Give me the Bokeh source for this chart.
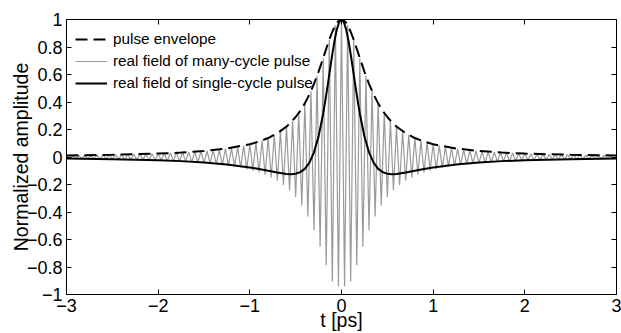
import numpy as np
from bokeh.plotting import figure
from bokeh.models import Range1d, FixedTicker, LinearAxis, Legend, LegendItem
from bokeh.embed import file_html
from bokeh.resources import INLINE

# ---- data (curves are symmetric about t = 0; values for t >= 0) ----
half_t = [0, 0.025, 0.05, 0.075, 0.1, 0.125, 0.15, 0.175, 0.2, 0.25, 0.3, 0.35, 0.4,
          0.45, 0.5, 0.55, 0.6, 0.7, 0.8, 0.9, 1.0, 1.25, 1.5, 1.75, 2.0, 2.5, 3.0]
envelope_half = [1.0, 0.994, 0.976, 0.948, 0.911, 0.868, 0.820, 0.770, 0.719, 0.621, 0.532,
                 0.455, 0.390, 0.336, 0.291, 0.253, 0.221, 0.173, 0.138, 0.112, 0.093, 0.062,
                 0.044, 0.032, 0.025, 0.016, 0.011]
single_half = [1.0, 0.982, 0.930, 0.849, 0.749, 0.638, 0.525, 0.415, 0.315, 0.150, 0.034,
               -0.041, -0.086, -0.110, -0.122, -0.125, -0.123, -0.113, -0.100, -0.087, -0.076,
               -0.054, -0.040, -0.030, -0.024, -0.016, -0.011]

# successive extremes of the many-cycle field (one every half carrier period), t >= 0
many_half = [1.000, -0.940, 0.958, -0.905, 0.852, -0.787, 0.719, -0.653, 0.590, -0.532,
             0.480, -0.432, 0.390, -0.353, 0.320, -0.291, 0.265, -0.242, 0.221, -0.203,
             0.187, -0.173, 0.160, -0.148, 0.138, -0.129, 0.120, -0.112, 0.105, -0.099,
             0.093, -0.088, 0.083, -0.078, 0.074, -0.070, 0.066, -0.063, 0.060, -0.057,
             0.054, -0.052, 0.050, -0.047, 0.045, -0.044, 0.042, -0.040, 0.038, -0.037,
             0.036, -0.034, 0.033, -0.032, 0.031, -0.030, 0.029, -0.028, 0.027, -0.026,
             0.025, -0.024, 0.023, -0.023, 0.022, -0.021, 0.021, -0.020, 0.020, -0.019,
             0.018, -0.018, 0.017, -0.017, 0.017, -0.016, 0.016, -0.015, 0.015, -0.015,
             0.014, -0.014, 0.014, -0.013, 0.013, -0.013, 0.012, -0.012, 0.012, -0.012,
             0.011]
many_half_t = list(np.linspace(0, 3, len(many_half)))

x_ticks = [-3, -2, -1, 0, 1, 2, 3]
x_labels = ["\u22123", "\u22122", "\u22121", "0", "1", "2", "3"]
y_ticks = [-1, -0.8, -0.6, -0.4, -0.2, 0, 0.2, 0.4, 0.6, 0.8, 1]
y_labels = ["\u22121", "\u22120.8", "\u22120.6", "\u22120.4", "\u22120.2", "0",
            "0.2", "0.4", "0.6", "0.8", "1"]


def mirror(t, v):
    return [-x for x in t[:0:-1]] + list(t), list(v[:0:-1]) + list(v)


env_t, env_v = mirror(half_t, envelope_half)
sgl_t, sgl_v = mirror(half_t, single_half)
many_t, many_v = mirror(many_half_t, many_half)

FONT = "Liberation Sans"

p = figure(width=621, height=333, x_range=Range1d(-3, 3), y_range=Range1d(-1, 1),
           output_backend="svg", toolbar_location=None,
           min_border_left=66, min_border_right=5, min_border_top=19, min_border_bottom=37)
p.background_fill_color = "white"
p.border_fill_color = "white"
p.outline_line_color = "black"
p.outline_line_width = 1
p.outline_line_alpha = 1
p.xgrid.visible = False
p.ygrid.visible = False

r_many = p.line(many_t, many_v, line_color="#9a9a9a", line_width=1.2)
r_env = p.line(env_t, env_v, line_color="black", line_width=2, line_dash="12 6")
r_sgl = p.line(sgl_t, sgl_v, line_color="black", line_width=2)


def style_axis(ax, ticks, labels, show_labels=True):
    ax.ticker = FixedTicker(ticks=ticks)
    ax.major_tick_in = 5
    ax.major_tick_out = 0
    ax.minor_tick_line_color = None
    ax.axis_line_color = "black"
    ax.major_tick_line_color = "black"
    ax.axis_label_text_font = FONT
    ax.axis_label_text_font_style = "normal"
    ax.axis_label_text_font_size = "19.5px"
    ax.axis_label_text_color = "black"
    ax.major_label_text_font = FONT
    ax.major_label_text_font_size = "18px"
    if show_labels:
        ax.major_label_overrides = {t: l for t, l in zip(ticks, labels)}
        ax.major_label_text_color = "black"
    else:
        ax.major_label_text_color = None
        ax.major_label_standoff = 0
        ax.axis_label_standoff = 0


style_axis(p.xaxis[0], x_ticks, x_labels)
style_axis(p.yaxis[0], y_ticks, y_labels)
p.xaxis[0].axis_label = "t [ps]"
p.yaxis[0].axis_label = "Normalized amplitude"
p.xaxis[0].major_label_standoff = 4
p.xaxis[0].axis_label_standoff = -6
p.yaxis[0].major_label_standoff = 4
p.yaxis[0].axis_label_standoff = -8

top_ax = LinearAxis()
style_axis(top_ax, x_ticks, x_labels, show_labels=False)
p.add_layout(top_ax, "above")
right_ax = LinearAxis()
style_axis(right_ax, y_ticks, y_labels, show_labels=False)
p.add_layout(right_ax, "right")

legend = Legend(items=[LegendItem(label="pulse envelope", renderers=[r_env]),
                       LegendItem(label="real field of many-cycle pulse", renderers=[r_many]),
                       LegendItem(label="real field of single-cycle pulse", renderers=[r_sgl])],
                location="top_left")
legend.border_line_color = "white"
legend.border_line_alpha = 0
legend.background_fill_alpha = 0
legend.label_text_font = FONT
legend.label_text_font_size = "15.3px"
legend.label_text_color = "black"
legend.glyph_width = 32
legend.glyph_height = 22
legend.spacing = -4
legend.padding = 9
legend.margin = 0
legend.label_standoff = 6
p.add_layout(legend)

open("out.html", "w").write(file_html(p, INLINE))
